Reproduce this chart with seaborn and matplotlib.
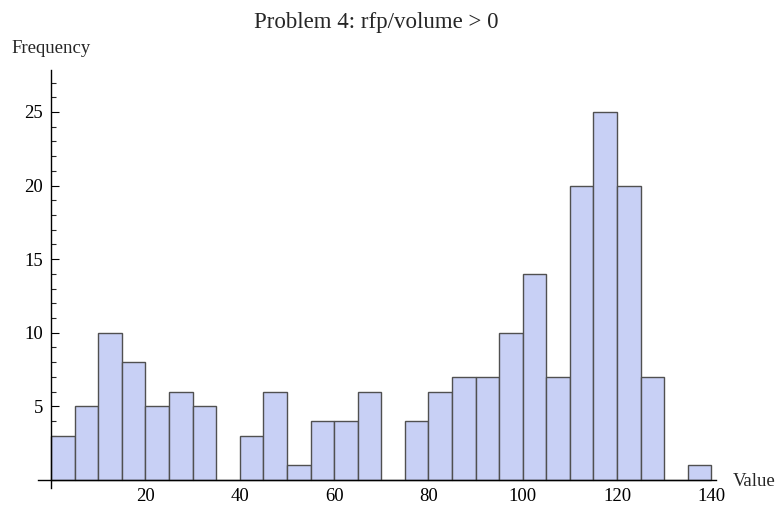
import numpy as np
import pandas as pd
import matplotlib
matplotlib.use("Agg")
import matplotlib.pyplot as plt
import seaborn as sns
from matplotlib.ticker import MultipleLocator, FixedLocator

bin_edges = list(range(0, 145, 5))
counts = [3, 5, 10, 8, 5, 6, 5, 0, 3, 6, 1, 4, 4, 6, 0,
          4, 6, 7, 7, 10, 14, 7, 20, 25, 20, 7, 0, 1]
x_ticks = [20, 40, 60, 80, 100, 120, 140]
y_ticks = [5, 10, 15, 20, 25]
title = "Problem 4: rfp/volume > 0"

centers = [(bin_edges[i] + bin_edges[i + 1]) / 2 for i in range(len(counts))]
df = pd.DataFrame({"value": centers, "count": counts})

sns.set_theme(style="white")
plt.rcParams["font.family"] = ["Liberation Serif", "DejaVu Serif"]
fs = 13.5

fig = plt.figure(figsize=(7.84, 5.13), dpi=100)
ax = fig.add_axes([38 / 784, 1 - 488 / 513, (716 - 38) / 784, (488 - 70) / 513])

sns.histplot(data=df, x="value", weights="count", bins=bin_edges, ax=ax,
             color="#c8d0f5", alpha=1.0, edgecolor="#505050", linewidth=1.0)

ax.set_xlim(-2.8, 141)
ax.set_ylim(-0.55, 27.85)
ax.spines["left"].set_position(("data", 0))
ax.spines["bottom"].set_position(("data", 0))
ax.spines["right"].set_visible(False)
ax.spines["top"].set_visible(False)
for s in ("left", "bottom"):
    ax.spines[s].set_color("black")
    ax.spines[s].set_linewidth(1.0)
    ax.spines[s].set_zorder(5)

ax.xaxis.set_major_locator(FixedLocator(x_ticks))
ax.yaxis.set_major_locator(FixedLocator(y_ticks))
ax.yaxis.set_minor_locator(MultipleLocator(1))
ax.tick_params(axis="x", which="both", length=0, pad=6, labelsize=fs, colors="black")
ax.tick_params(axis="y", which="major", direction="in", length=6, width=0.8,
               pad=6, labelsize=fs, colors="black", left=True)
ax.tick_params(axis="y", which="minor", direction="in", length=3.5, width=0.8, left=True)
ax.set_xlabel("")
ax.set_ylabel("")
ax.grid(False)

fig.text(11 / 784, 1 - 53 / 513, "Frequency", fontsize=fs, ha="left", va="baseline")
fig.text(733 / 784, 1 - 486 / 513, "Value", fontsize=fs, ha="left", va="baseline")
fig.text(376.5 / 784, 1 - 28 / 513, title, fontsize=16.5, ha="center", va="baseline")

fig.savefig("out.png", dpi=100)
